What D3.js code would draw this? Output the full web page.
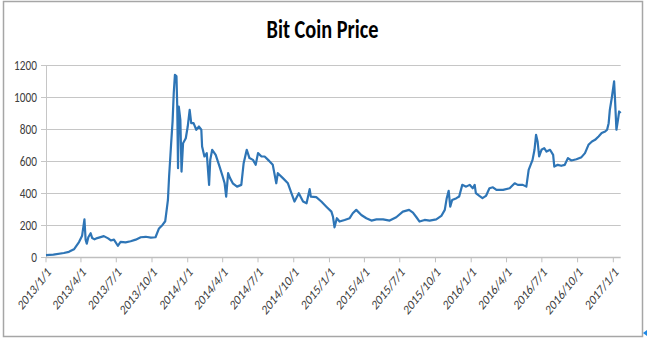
<!DOCTYPE html>
<html>
<head>
<meta charset="utf-8">
<script src="https://cdn.jsdelivr.net/npm/d3@7"></script>
<style>
  html, body { margin: 0; padding: 0; background: #fff; }
  svg { display: block; }
  text { font-family: Calibri, Carlito, "Liberation Sans", Arial, sans-serif; }
</style>
</head>
<body>
<svg id="chart" width="647" height="341"></svg>
<script>
const title = "Bit Coin Price";

const dates = [
  "2013-01-01","2013-01-20","2013-02-16","2013-03-01","2013-03-14","2013-03-27","2013-04-04","2013-04-10",
  "2013-04-13","2013-04-16","2013-04-20","2013-04-26","2013-04-30","2013-05-06","2013-05-13","2013-05-30",
  "2013-06-10","2013-06-17","2013-06-25","2013-07-05","2013-07-12","2013-07-25","2013-08-07","2013-08-20",
  "2013-09-02","2013-09-15","2013-09-28","2013-10-10","2013-10-19","2013-10-28","2013-11-04","2013-11-08",
  "2013-11-11","2013-11-14","2013-11-17","2013-11-19","2013-11-23","2013-11-26","2013-11-29","2013-12-03",
  "2013-12-05","2013-12-07","2013-12-09","2013-12-13","2013-12-16","2013-12-20","2013-12-27",
  "2014-01-01","2014-01-06","2014-01-10","2014-01-16","2014-01-23","2014-01-30","2014-02-05","2014-02-07",
  "2014-02-13","2014-02-19","2014-02-25","2014-02-28","2014-03-05","2014-03-14","2014-03-24","2014-04-01",
  "2014-04-06","2014-04-10","2014-04-15","2014-04-20","2014-04-27","2014-05-08","2014-05-19","2014-05-25",
  "2014-06-02","2014-06-09","2014-06-18","2014-06-25","2014-07-01","2014-07-10","2014-07-18","2014-07-27",
  "2014-07-31","2014-08-08","2014-08-17","2014-08-21","2014-09-03","2014-09-16","2014-09-25","2014-10-03",
  "2014-10-14","2014-10-25","2014-11-03","2014-11-11","2014-11-14","2014-11-28","2014-12-11","2014-12-24",
  "2015-01-06","2015-01-10","2015-01-14","2015-01-20","2015-01-27","2015-02-09","2015-02-22","2015-03-02",
  "2015-03-11","2015-03-24","2015-04-06","2015-04-19","2015-05-02","2015-05-19","2015-06-05","2015-06-22",
  "2015-07-09","2015-07-25","2015-08-04","2015-08-13","2015-08-21","2015-09-03","2015-09-16","2015-10-03",
  "2015-10-16","2015-10-25","2015-10-30","2015-11-04","2015-11-08","2015-11-13","2015-11-24","2015-12-01",
  "2015-12-09","2015-12-19","2015-12-28",
  "2016-01-05","2016-01-10","2016-01-13","2016-01-22","2016-01-30","2016-02-08","2016-02-17","2016-02-26",
  "2016-03-06","2016-03-23","2016-04-09","2016-04-22","2016-04-30","2016-05-13","2016-05-22","2016-05-28",
  "2016-06-02","2016-06-07","2016-06-12","2016-06-16","2016-06-20","2016-06-24","2016-06-30","2016-07-07",
  "2016-07-13","2016-07-22","2016-07-30","2016-08-02","2016-08-11","2016-08-20","2016-08-29","2016-09-06",
  "2016-09-15","2016-09-28","2016-10-11","2016-10-20","2016-10-29","2016-11-07","2016-11-15","2016-11-24",
  "2016-12-02","2016-12-11","2016-12-16","2016-12-20","2016-12-23","2016-12-28",
  "2017-01-03","2017-01-05","2017-01-07","2017-01-09","2017-01-13","2017-01-16","2017-01-20"
];

const prices = [
  14,17,27,34,50,95,135,237,
  110,85,125,150,120,112,120,132,
  118,105,110,72,96,93,100,110,
  125,128,123,125,180,202,225,300,
  358,504,620,700,848,1025,1139,1129,
  941,556,941,858,535,712,743,
  816,920,837,837,796,816,796,691,
  629,650,452,608,671,639,566,504,
  462,379,525,494,462,441,452,587,
  671,619,608,577,650,629,629,608,
  598,577,462,525,494,462,400,348,
  400,348,337,425,379,375,348,316,
  285,254,187,244,223,233,244,275,
  296,264,244,229,237,237,229,250,
  285,296,279,250,223,233,229,237,
  258,296,369,415,316,358,369,379,
  452,441,452,
  431,452,400,383,369,383,431,437,
  421,421,431,462,452,452,441,546,
  577,608,671,764,723,629,671,681,
  660,671,639,566,577,571,577,619,
  604,612,625,650,702,723,733,754,
  775,785,796,837,920,994,
  1098,1004,900,796,858,910,900
];

const yTicks = [0, 200, 400, 600, 800, 1000, 1200];
const xTickLabels = [
  "2013/1/1","2013/4/1","2013/7/1","2013/10/1","2014/1/1","2014/4/1","2014/7/1","2014/10/1",
  "2015/1/1","2015/4/1","2015/7/1","2015/10/1","2016/1/1","2016/4/1","2016/7/1","2016/10/1","2017/1/1"
];

const parse = d3.utcParse("%Y-%m-%d");
const parseLabel = d3.utcParse("%Y/%m/%d");
const data = dates.map((d, i) => ({ date: parse(d), value: prices[i] }));

const svg = d3.select("#chart");
const stretch = 1.27;

// outer frame
svg.append("rect")
  .attr("x", 3.5).attr("y", 1.5).attr("width", 639).attr("height", 335)
  .attr("fill", "#fff").attr("stroke", "#a6a6a6").attr("stroke-width", 1.5);

// small selection marker at the bottom-right corner
svg.append("path")
  .attr("d", "M643,333 L647,330 L647,336 Z")
  .attr("fill", "#1e88e5");

const x = d3.scaleUtc()
  .domain([parse("2013-01-01"), parse("2017-01-20")])
  .range([46, 620.7]);
const y = d3.scaleLinear().domain([0, 1200]).range([257.3, 65]);

// gridlines
svg.append("g")
  .selectAll("line")
  .data(yTicks.filter(t => t > 0))
  .join("line")
  .attr("x1", x.range()[0]).attr("x2", x.range()[1])
  .attr("y1", d => Math.round(y(d)) + 0.5).attr("y2", d => Math.round(y(d)) + 0.5)
  .attr("stroke", "#c6c6c6").attr("stroke-width", 1);

// y axis line and ticks
svg.append("line")
  .attr("x1", 46.5).attr("x2", 46.5)
  .attr("y1", y(1200)).attr("y2", y(0))
  .attr("stroke", "#c6c6c6");
svg.append("g")
  .selectAll("line")
  .data(yTicks)
  .join("line")
  .attr("x1", 41).attr("x2", 46.5)
  .attr("y1", d => Math.round(y(d)) + 0.5).attr("y2", d => Math.round(y(d)) + 0.5)
  .attr("stroke", "#c6c6c6");

// y labels
svg.append("g")
  .selectAll("text")
  .data(yTicks)
  .join("text")
  .attr("transform", d => `translate(37,${y(d)}) scale(1,1.22)`)
  .attr("text-anchor", "end")
  .attr("dy", "0.36em")
  .attr("font-size", 11.3)
  .attr("fill", "#404040")
  .text(d => d);

// x axis line
svg.append("line")
  .attr("x1", x.range()[0]).attr("x2", x.range()[1])
  .attr("y1", Math.round(y(0)) + 0.5).attr("y2", Math.round(y(0)) + 0.5)
  .attr("stroke", "#bfbfbf").attr("stroke-width", 1.5);

const xTickDates = xTickLabels.map(s => parseLabel(s));
svg.append("g")
  .selectAll("line")
  .data(xTickDates)
  .join("line")
  .attr("x1", d => x(d)).attr("x2", d => x(d))
  .attr("y1", y(0)).attr("y2", y(0) + 5)
  .attr("stroke", "#bfbfbf");

svg.append("g")
  .selectAll("text")
  .data(xTickLabels)
  .join("text")
  .attr("transform", d => `translate(${x(parseLabel(d)) + 3},${y(0) + 12}) scale(1,${stretch}) rotate(-45)`)
  .attr("text-anchor", "end")
  .attr("dy", "0.36em")
  .attr("font-size", 11)
  .attr("fill", "#404040")
  .text(d => d);

// price line
const line = d3.line()
  .x(d => x(d.date))
  .y(d => y(d.value));
svg.append("path")
  .datum(data)
  .attr("d", line)
  .attr("fill", "none")
  .attr("stroke", "#2e75b6")
  .attr("stroke-width", 2.2)
  .attr("stroke-linejoin", "round");

// title
svg.append("text")
  .attr("transform", `translate(322.5,38.3) scale(1,1.27)`)
  .attr("text-anchor", "middle")
  .attr("font-size", 20.3)
  .attr("font-weight", "bold")
  .attr("fill", "#000")
  .text(title);
</script>
</body>
</html>
